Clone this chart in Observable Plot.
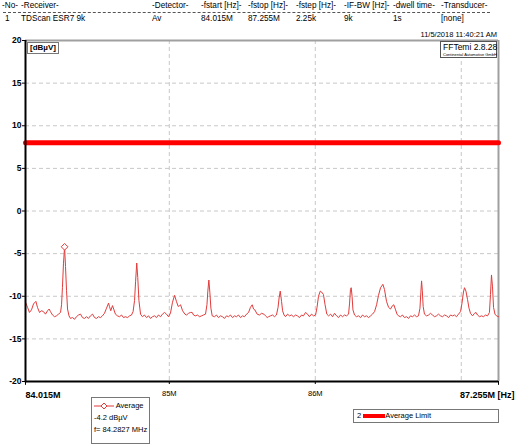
<!DOCTYPE html>
<html>
<head>
<meta charset="utf-8">
<script src="https://cdn.jsdelivr.net/npm/d3@7"></script>
<script src="https://cdn.jsdelivr.net/npm/@observablehq/plot@0.6"></script>
<style>
  html, body { margin:0; padding:0; background:#fff; }
  #wrap { position:relative; width:515px; height:444px; overflow:hidden; font-family:"Liberation Sans", Arial, sans-serif; color:#000; }
  #wrap > svg { position:absolute; left:0; top:0; }
  .h { position:absolute; font-size:8.2px; white-space:nowrap; line-height:1; }
  .box { position:absolute; background:#fff; border:1px solid #777; box-sizing:border-box; white-space:nowrap; }
</style>
</head>
<body>
<div id="wrap"></div>
<script>
// ---- header table ----
const headerCols = ["-No-", "-Receiver-", "-Detector-", "-fstart [Hz]-", "-fstop [Hz]-", "-fstep [Hz]-", "-IF-BW [Hz]-", "-dwell time-", "-Transducer-"];
const headerVals = ["1", "TDScan ESR7 9k", "Av", "84.015M", "87.255M", "2.25k", "9k", "1s", "[none]"];
const timestamp = "11/5/2018 11:40:21 AM";

// ---- axes ----
const yTicks = [-20, -15, -10, -5, 0, 5, 10, 15, 20];
const xGrid = [85, 86, 87];
const xMidTicks = [85, 86];
const xMidLabels = ["85M", "86M"];
const xStart = 84.015, xStop = 87.255;
const xStartLabel = "84.015M", xStopLabel = "87.255M [Hz]";

// ---- trace (MHz, dBµV) ----
const freq = [84.015,84.029,84.042,84.056,84.070,84.086,84.097,84.111,84.125,84.138,84.152,84.166,84.177,84.186,84.200,84.214,84.227,84.241,84.255,84.262,84.268,84.275,84.2827,84.289,84.296,84.303,84.313,84.323,84.337,84.351,84.364,84.378,84.392,84.405,84.419,84.433,84.446,84.460,84.474,84.488,84.501,84.515,84.529,84.542,84.556,84.570,84.584,84.590,84.599,84.611,84.621,84.631,84.645,84.659,84.673,84.686,84.700,84.714,84.728,84.741,84.752,84.762,84.769,84.777,84.784,84.792,84.803,84.816,84.830,84.844,84.858,84.871,84.885,84.899,84.912,84.926,84.940,84.953,84.967,84.981,84.994,85.008,85.022,85.036,85.049,85.061,85.070,85.077,85.091,85.107,85.118,85.132,85.145,85.157,85.166,85.179,85.193,85.207,85.221,85.234,85.248,85.258,85.264,85.271,85.278,85.285,85.294,85.310,85.323,85.337,85.351,85.364,85.378,85.392,85.406,85.419,85.433,85.447,85.460,85.474,85.488,85.501,85.515,85.529,85.543,85.556,85.568,85.577,85.586,85.602,85.618,85.632,85.648,85.659,85.671,85.680,85.693,85.707,85.721,85.734,85.745,85.752,85.760,85.769,85.776,85.786,85.796,85.810,85.823,85.837,85.851,85.865,85.878,85.892,85.906,85.919,85.933,85.947,85.960,85.974,85.988,86.002,86.012,86.022,86.034,86.043,86.056,86.067,86.079,86.091,86.105,86.118,86.132,86.146,86.159,86.173,86.187,86.200,86.214,86.228,86.235,86.241,86.246,86.252,86.258,86.269,86.282,86.296,86.310,86.324,86.337,86.351,86.365,86.379,86.392,86.406,86.420,86.433,86.447,86.463,86.474,86.488,86.502,86.515,86.529,86.538,86.550,86.560,86.570,86.584,86.597,86.611,86.625,86.639,86.652,86.666,86.680,86.693,86.707,86.717,86.723,86.728,86.733,86.739,86.748,86.762,86.776,86.789,86.803,86.817,86.830,86.844,86.858,86.872,86.885,86.899,86.913,86.926,86.940,86.954,86.967,86.981,86.995,87.005,87.015,87.022,87.032,87.043,87.053,87.063,87.077,87.091,87.101,87.111,87.125,87.139,87.152,87.166,87.180,87.193,87.200,87.207,87.214,87.221,87.231,87.241,87.255];
const level = [-10.7,-11.3,-11.9,-11.6,-10.9,-10.6,-11.3,-11.9,-11.7,-11.8,-12.1,-11.7,-11.5,-11.8,-12.2,-12.4,-12.3,-12.1,-11.9,-11.0,-9.0,-6.2,-4.2,-6.5,-9.3,-11.5,-12.3,-12.6,-12.5,-12.7,-12.4,-12.2,-12.1,-12.5,-12.6,-12.4,-12.6,-12.3,-12.1,-12.5,-12.6,-12.4,-12.5,-12.3,-12.0,-11.4,-10.8,-11.2,-11.7,-11.1,-11.6,-12.1,-12.3,-12.4,-12.2,-12.5,-12.4,-12.5,-12.3,-12.2,-11.8,-10.5,-8.3,-6.1,-7.8,-10.5,-12.1,-12.4,-12.2,-12.5,-12.3,-12.6,-12.4,-12.3,-12.5,-12.2,-12.4,-12.1,-11.9,-12.1,-12.4,-12.0,-10.7,-9.9,-10.6,-11.2,-11.1,-11.0,-11.7,-12.1,-12.2,-12.0,-11.9,-11.9,-12.2,-12.3,-12.2,-12.4,-12.3,-12.2,-12.1,-11.0,-9.4,-8.1,-9.6,-11.4,-12.3,-12.4,-12.2,-12.5,-12.3,-12.4,-12.6,-12.3,-12.4,-12.2,-12.5,-12.3,-12.4,-12.2,-12.5,-12.3,-12.4,-12.1,-11.9,-11.3,-11.0,-11.5,-11.6,-12.1,-12.2,-12.0,-12.1,-12.3,-12.5,-12.4,-12.3,-12.2,-12.4,-12.2,-11.3,-10.2,-9.4,-10.6,-11.7,-12.2,-12.4,-12.1,-12.3,-12.2,-12.4,-12.2,-12.3,-12.5,-12.2,-12.3,-11.9,-12.1,-12.4,-12.1,-12.3,-12.2,-11.3,-10.0,-9.4,-9.5,-9.8,-11.0,-12.1,-12.3,-12.1,-12.4,-12.0,-12.3,-12.5,-12.2,-12.4,-12.2,-12.3,-12.1,-10.8,-9.2,-9.0,-10.0,-11.6,-12.2,-12.4,-12.3,-12.5,-12.2,-12.4,-12.3,-12.5,-12.3,-12.1,-11.8,-11.0,-9.9,-9.0,-8.6,-9.2,-10.6,-11.3,-11.5,-11.1,-11.0,-11.6,-12.1,-12.3,-12.4,-12.2,-12.5,-12.4,-12.6,-12.3,-12.4,-12.2,-12.4,-12.3,-11.4,-9.6,-8.2,-9.3,-11.2,-12.1,-12.3,-12.2,-12.0,-12.2,-12.4,-12.3,-12.1,-12.3,-12.4,-12.2,-12.3,-12.5,-12.2,-12.3,-12.2,-12.4,-12.1,-11.8,-10.8,-9.5,-9.0,-9.4,-10.4,-11.4,-12.0,-12.3,-12.0,-11.9,-12.2,-12.4,-12.3,-12.4,-12.2,-12.3,-11.9,-9.8,-7.5,-8.9,-11.3,-12.1,-12.3,-12.4];

// ---- marker & limit ----
const markerFreq = [84.2827];
const markerLevel = [-4.2];
const limitFreq = [84.015, 87.255];
const limitLevel = [8, 8];

const trace = freq.map((f, i) => ({f, v: level[i]}));
const limit = limitFreq.map((f, i) => ({f, v: limitLevel[i]}));
const marker = markerFreq.map((f, i) => ({f, v: markerLevel[i]}));

const traceColor = "#e23b3b";

const chart = Plot.plot({
  width: 515,
  height: 444,
  marginLeft: 25,
  marginRight: 17,
  marginTop: 40,
  marginBottom: 63,
  style: {fontFamily: "'Liberation Sans', Arial, sans-serif", background: "transparent", overflow: "visible"},
  x: {domain: [xStart, xStop], axis: null, label: null},
  y: {domain: [-20, 20], axis: null, label: null},
  marks: [
    Plot.gridY(yTicks.filter(d => d > -20 && d < 20), {stroke: "#c8c8c8", strokeOpacity: 1, strokeDasharray: "4,3"}),
    Plot.gridX(xGrid, {stroke: "#c8c8c8", strokeOpacity: 1, strokeDasharray: "4,3"}),
    Plot.ruleY([20], {stroke: "#a0a0a0", strokeWidth: 2}),
    Plot.ruleX([xStop], {stroke: "#a0a0a0", strokeWidth: 2}),
    Plot.line(limit, {x: "f", y: "v", stroke: "#ff0000", strokeWidth: 5}),
    Plot.line(trace, {x: "f", y: "v", stroke: traceColor, strokeWidth: 1}),
    Plot.dot(marker, {x: "f", y: "v", symbol: "diamond2", r: 3, stroke: traceColor, fill: "#fff", strokeWidth: 1}),
    Plot.ruleX([xStart], {stroke: "#000", strokeWidth: 2, y1: -20.15, y2: 20}),
    Plot.ruleY([-20], {stroke: "#000", strokeWidth: 2}),
    Plot.ruleX([xStart, xStop], {stroke: "#000", strokeWidth: 1, y1: -20, y2: -20.45, clip: false}),
    Plot.axisY({ticks: yTicks, tickSize: 3, tickPadding: 1, fontWeight: "bold", fontSize: 8.5, stroke: "#000", label: null, tickFormat: d => String(d)}),
    Plot.axisX({ticks: xMidTicks, tickSize: 3, tickPadding: 6, fontSize: 7.5, label: null, tickFormat: (d, i) => xMidLabels[i], stroke: "#000"}),
    Plot.text([xStart], {x: d => d, frameAnchor: "bottom", dy: 16, text: () => xStartLabel, textAnchor: "start", fontWeight: "bold", fontSize: 9}),
    Plot.text([xStop], {x: d => d, frameAnchor: "bottom", dy: 16, dx: 16, text: () => xStopLabel, textAnchor: "end", fontWeight: "bold", fontSize: 9})
  ]
});
const wrap = document.getElementById("wrap");
wrap.appendChild(chart);

// header
const colX = [2, 21, 152, 201, 248, 296, 344, 393, 441];
headerCols.forEach((t, i) => {
  const d = document.createElement("div"); d.className = "h"; d.textContent = t;
  d.style.left = colX[i] + "px"; d.style.top = "2px"; wrap.appendChild(d);
});
headerVals.forEach((t, i) => {
  const d = document.createElement("div"); d.className = "h"; d.textContent = t;
  d.style.left = (i === 0 ? 5 : colX[i]) + "px"; d.style.top = "15px"; wrap.appendChild(d);
});
const dash = document.createElement("div");
dash.style.cssText = "position:absolute;left:3px;top:11.5px;width:487px;border-top:1px dashed #555;";
wrap.appendChild(dash);
const ts = document.createElement("div"); ts.className = "h"; ts.textContent = timestamp;
ts.style.cssText += "right:18px;top:31px;font-size:7.5px;";
wrap.appendChild(ts);

// unit box
const ub = document.createElement("div"); ub.className = "box";
ub.style.cssText += "left:27px;top:42px;padding:1px 2px;font-size:8px;font-weight:bold;line-height:1;";
ub.textContent = "[dBµV]";
wrap.appendChild(ub);

// FFTemi box
const fb = document.createElement("div"); fb.className = "box";
fb.style.cssText += "left:440px;top:41px;width:57px;height:17px;padding:1px 2px;line-height:1;border-color:#555;";
fb.innerHTML = '<div style="font-size:8.5px">FFTemi 2.8.28</div><div style="font-size:4px;margin-top:1px">Continental Automotive GmbH</div>';
wrap.appendChild(fb);

// legend 1
const l1 = document.createElement("div"); l1.className = "box";
l1.style.cssText += "left:91px;top:397px;width:59px;height:47px;font-size:7.5px;line-height:12px;padding:2px 2px;";
l1.innerHTML = '<div><svg width="20" height="8" style="vertical-align:middle"><line x1="0" y1="4" x2="20" y2="4" stroke="' + traceColor + '" stroke-width="1"/><path d="M10,1 L13,4 L10,7 L7,4 Z" fill="#fff" stroke="' + traceColor + '"/></svg> Average</div><div>' + markerLevel[0] + ' dBµV</div><div>f= ' + markerFreq[0] + ' MHz</div>';
wrap.appendChild(l1);

// legend 2
const l2 = document.createElement("div"); l2.className = "box";
l2.style.cssText += "left:353px;top:409px;width:146px;height:14px;font-size:7.5px;line-height:12px;padding:0 3px;";
l2.innerHTML = '2 <svg width="22" height="6" style="vertical-align:middle"><line x1="0" y1="3" x2="22" y2="3" stroke="#ff0000" stroke-width="4"/></svg>Average Limit';
wrap.appendChild(l2);
</script>
</body>
</html>
